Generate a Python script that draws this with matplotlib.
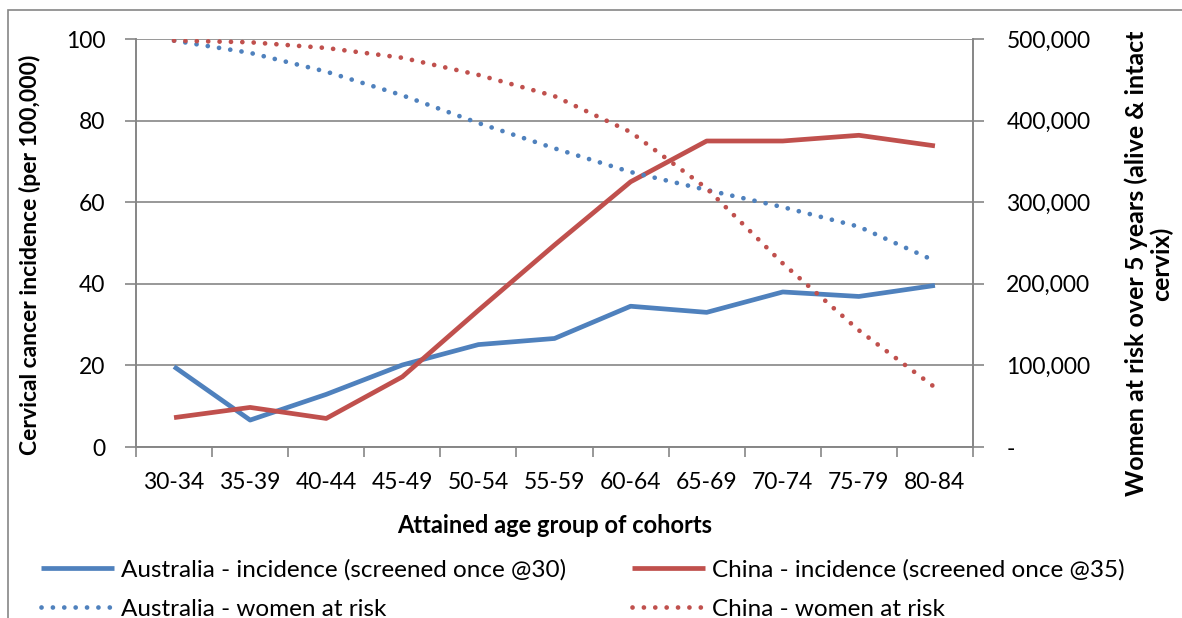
import matplotlib
matplotlib.use("Agg")
import matplotlib.pyplot as plt
from matplotlib.patches import Rectangle
from matplotlib.ticker import FixedLocator, FuncFormatter

age_groups = ["30-34", "35-39", "40-44", "45-49", "50-54", "55-59",
              "60-64", "65-69", "70-74", "75-79", "80-84"]
aus_incidence = [19.7, 6.6, 12.9, 20.1, 25.1, 26.6, 34.5, 33.0, 38.0, 36.9, 39.6]
chn_incidence = [7.2, 9.7, 7.0, 17.2, 33.5, 49.5, 65.0, 75.0, 75.0, 76.4, 73.8]
aus_at_risk = [498000, 483000, 460000, 431000, 397000, 366000,
               337000, 315000, 294000, 270000, 228000]
chn_at_risk = [498000, 496000, 489000, 477000, 456000, 430000,
               386000, 317000, 225000, 143000, 73000]

BLUE = "#4F81BD"
RED = "#C0504D"
GRAY = "#868686"
FONT = "Lato"
FS = 16.5
FS_LEG = 17.5
FS_LAB = 17

plt.rcParams["font.family"] = [FONT, "DejaVu Sans"]

W, H = 1182, 618
fig = plt.figure(figsize=(W / 100, H / 100), dpi=100)
fig.patch.set_facecolor("white")

# chart border
fig.patches.append(Rectangle((8 / W, -0.1), 1.2, 1 - 10 / H + 0.1,
                             transform=fig.transFigure, fill=False,
                             edgecolor=GRAY, linewidth=1.2))

left, right, top, bottom = 136, 973, 39, 447
ax = fig.add_axes([left / W, 1 - bottom / H, (right - left) / W, (bottom - top) / H])
ax2 = ax.twinx()

x = list(range(len(age_groups)))

LW = 3.4
l1, = ax.plot(x, aus_incidence, color=BLUE, lw=LW, solid_capstyle="butt", zorder=3)
l2, = ax.plot(x, chn_incidence, color=RED, lw=LW, solid_capstyle="butt", zorder=3)
dot = (0, (0.01, 2.4))
l3, = ax2.plot(x, aus_at_risk, color=BLUE, lw=LW, linestyle=dot, dash_capstyle="round")
l4, = ax2.plot(x, chn_at_risk, color=RED, lw=LW, linestyle=dot, dash_capstyle="round")

ax.set_xlim(-0.5, len(age_groups) - 0.5)
ax.set_ylim(0, 100)
ax2.set_ylim(0, 500000)

ax.set_yticks(range(0, 101, 20))
ax.yaxis.grid(True, color=GRAY, lw=1.2)
ax.set_axisbelow(True)

ax.xaxis.set_major_locator(FixedLocator([i - 0.5 for i in range(len(age_groups) + 1)]))
ax.xaxis.set_minor_locator(FixedLocator(x))
ax.set_xticklabels([], minor=False)
ax.set_xticklabels(age_groups, minor=True)
ax.tick_params(axis="x", which="major", direction="out", length=7, width=1.2, color=GRAY)
ax.tick_params(axis="x", which="minor", length=0, pad=18, labelsize=FS)
ax.tick_params(axis="y", direction="out", length=8, width=1.2, color=GRAY, pad=14, labelsize=FS)

ax2.set_yticks(range(0, 500001, 100000))
ax2.yaxis.set_major_formatter(FuncFormatter(lambda v, p: "-" if v == 0 else f"{int(v):,}"))
ax2.tick_params(axis="y", direction="out", length=8, width=1.2, color=GRAY, pad=16, labelsize=FS)

for a in (ax, ax2):
    for s in a.spines.values():
        s.set_color(GRAY)
        s.set_linewidth(1.2)
    a.spines["top"].set_visible(False)

ax.set_xlabel("Attained age group of cohorts", fontsize=FS_LAB, fontweight="bold", labelpad=15)
ax.set_ylabel("Cervical cancer incidence (per 100,000)", fontsize=16.5, fontweight="bold")
ax.yaxis.set_label_coords(-(left - 41) / (right - left), 0.47)
ax2.set_ylabel("Women at risk over 5 years (alive & intact\ncervix)", fontsize=18,
               fontweight="bold", rotation=90, linespacing=1.1)
ax2.yaxis.set_label_coords(1 + (1124 - right) / (right - left), 0.45)

leg_kw = dict(frameon=False, fontsize=FS_LEG, handlelength=3.0, handletextpad=0.3,
              labelspacing=0.75, borderpad=0, borderaxespad=0, loc="center left")
leg_y = 1 - 589.5 / H
fig.legend([l1, l3], ["Australia - incidence (screened once @30)", "Australia - women at risk"],
           bbox_to_anchor=(41 / W, leg_y), **leg_kw)
fig.legend([l2, l4], ["China - incidence (screened once @35)", "China - women at risk"],
           bbox_to_anchor=(632 / W, leg_y), **leg_kw)

fig.savefig("out.png", dpi=100, facecolor="white")
